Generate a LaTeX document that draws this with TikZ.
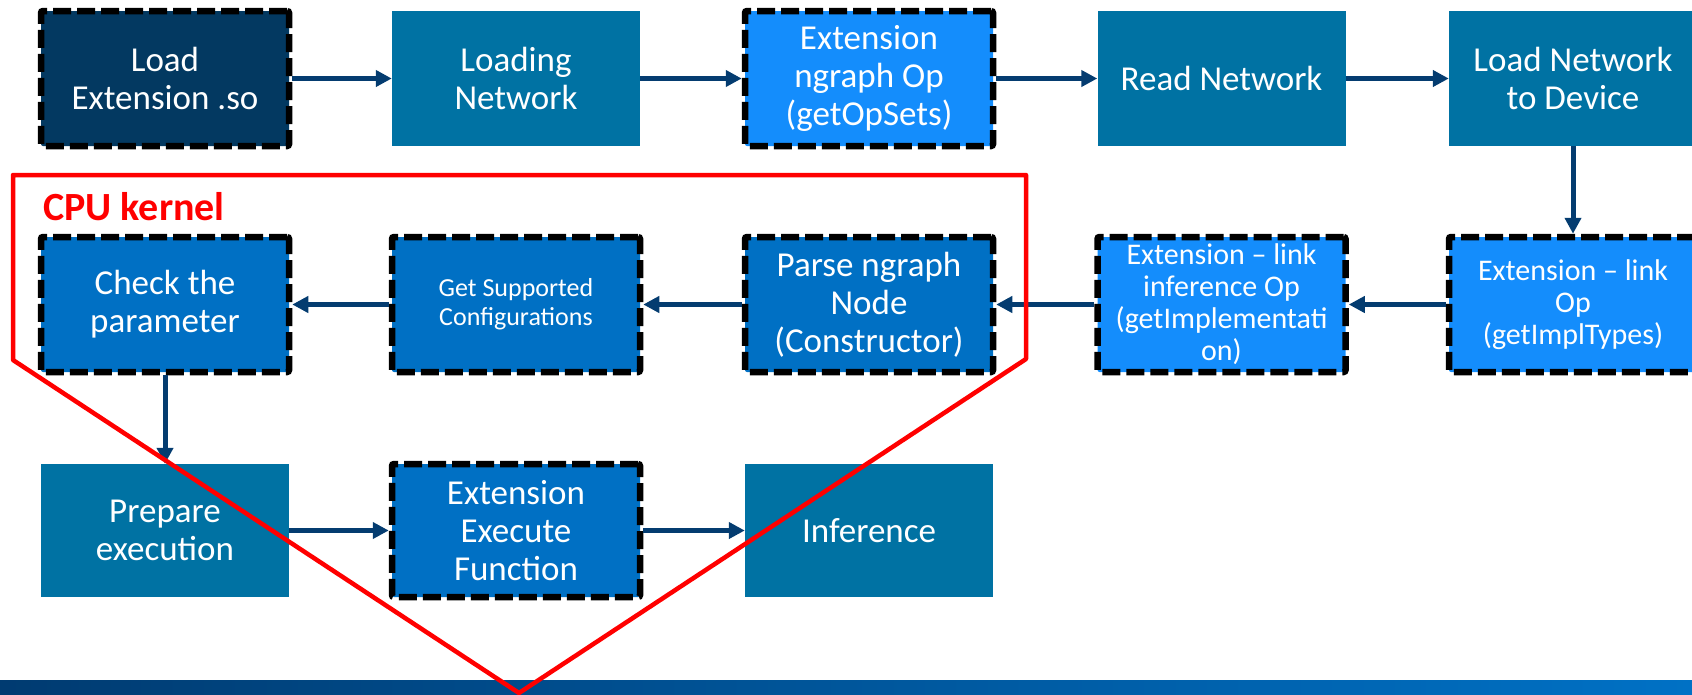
\documentclass[tikz,border=0pt]{standalone}
\usepackage{fontspec}
\setmainfont{Carlito}
\usetikzlibrary{arrows.meta}
\definecolor{cnavy}{RGB}{3,57,97}
\definecolor{cteal}{RGB}{0,114,163}
\definecolor{cbright}{RGB}{20,141,252}
\definecolor{cmed}{RGB}{0,112,196}
\definecolor{carrow}{RGB}{4,60,112}
\definecolor{cbandl}{RGB}{0,59,113}
\definecolor{cbandr}{RGB}{0,113,197}
\begin{document}
\begin{tikzpicture}[x=1pt,y=-1pt,
  box/.style={minimum width=248pt,minimum height=135pt,inner sep=0pt,align=center,text=white,font=\fontsize{35}{38}\selectfont},
  dbox/.style={box,draw=black,line width=6.5pt,dash pattern=on 18pt off 6pt,rounded corners=2pt},
  arr/.style={draw=carrow,line width=5pt,-{Triangle[length=16pt,width=16pt]}},
  smalltxt/.style={font=\fontsize{26}{29}\selectfont},
  linktxt/.style={font=\fontsize{30}{32}\selectfont},
]
\useasboundingbox (0,0) rectangle (1692,694);
% bottom band
\shade[left color=cbandl,right color=cbandr] (0,680) rectangle (1692,694);
% row 1
\node[dbox,fill=cnavy] (lext) at (165,78.5) {Load\\Extension .so};
\node[box,fill=cteal] (lnet) at (516,78.5) {Loading\\Network};
\node[dbox,fill=cbright] (ngop) at (869,78.5) {Extension\\ngraph Op\\(getOpSets)};
\node[box,fill=cteal] (rnet) at (1221.5,78.5) {Read Network};
\node[box,fill=cteal] (lnd) at (1573,78.5) {Load Network\\to Device};
% row 2
\node[dbox,fill=cmed] (chk) at (165,304.5) {Check the\\parameter};
\node[dbox,fill=cmed,smalltxt] (gsc) at (516,304.5) {Get Supported\\Configurations};
\node[dbox,fill=cmed] (pars) at (869,304.5) {Parse ngraph\\Node\\(Constructor)};
\node[dbox,fill=cbright,linktxt] (linf) at (1221.5,304.5) {Extension -- link\\inference Op\\(getImplementati\\on)};
\node[dbox,fill=cbright,linktxt] (lop) at (1573,304.5) {Extension -- link\\Op\\(getImplTypes)};
% row 3
\node[box,fill=cteal,minimum height=133pt] (prep) at (165,530.5) {Prepare\\execution};
\node[dbox,fill=cmed,minimum height=133pt] (exe) at (516,530.5) {Extension\\Execute\\Function};
\node[box,fill=cteal,minimum height=133pt] (inf) at (869,530.5) {Inference};
% arrows
\draw[arr] (lext) -- (lnet);
\draw[arr] (lnet) -- (ngop);
\draw[arr] (ngop) -- (rnet);
\draw[arr] (rnet) -- (lnd);
\draw[arr] (lnd) -- (lop);
\draw[arr] (lop) -- (linf);
\draw[arr] (linf) -- (pars);
\draw[arr] (pars) -- (gsc);
\draw[arr] (gsc) -- (chk);
\draw[arr] (chk) -- (prep);
\draw[arr] (prep) -- (exe);
\draw[arr] (exe) -- (inf);
% CPU kernel region
\draw[red,line width=4.5pt,line join=round] (13,175) -- (1026,175) -- (1026,359) -- (519,693) -- (13,360) -- cycle;
\node[anchor=west,text=red,font=\fontsize{40}{44}\selectfont\bfseries,inner sep=0pt] (cpu) at (43,207) {CPU kernel};
\end{tikzpicture}
\end{document}
